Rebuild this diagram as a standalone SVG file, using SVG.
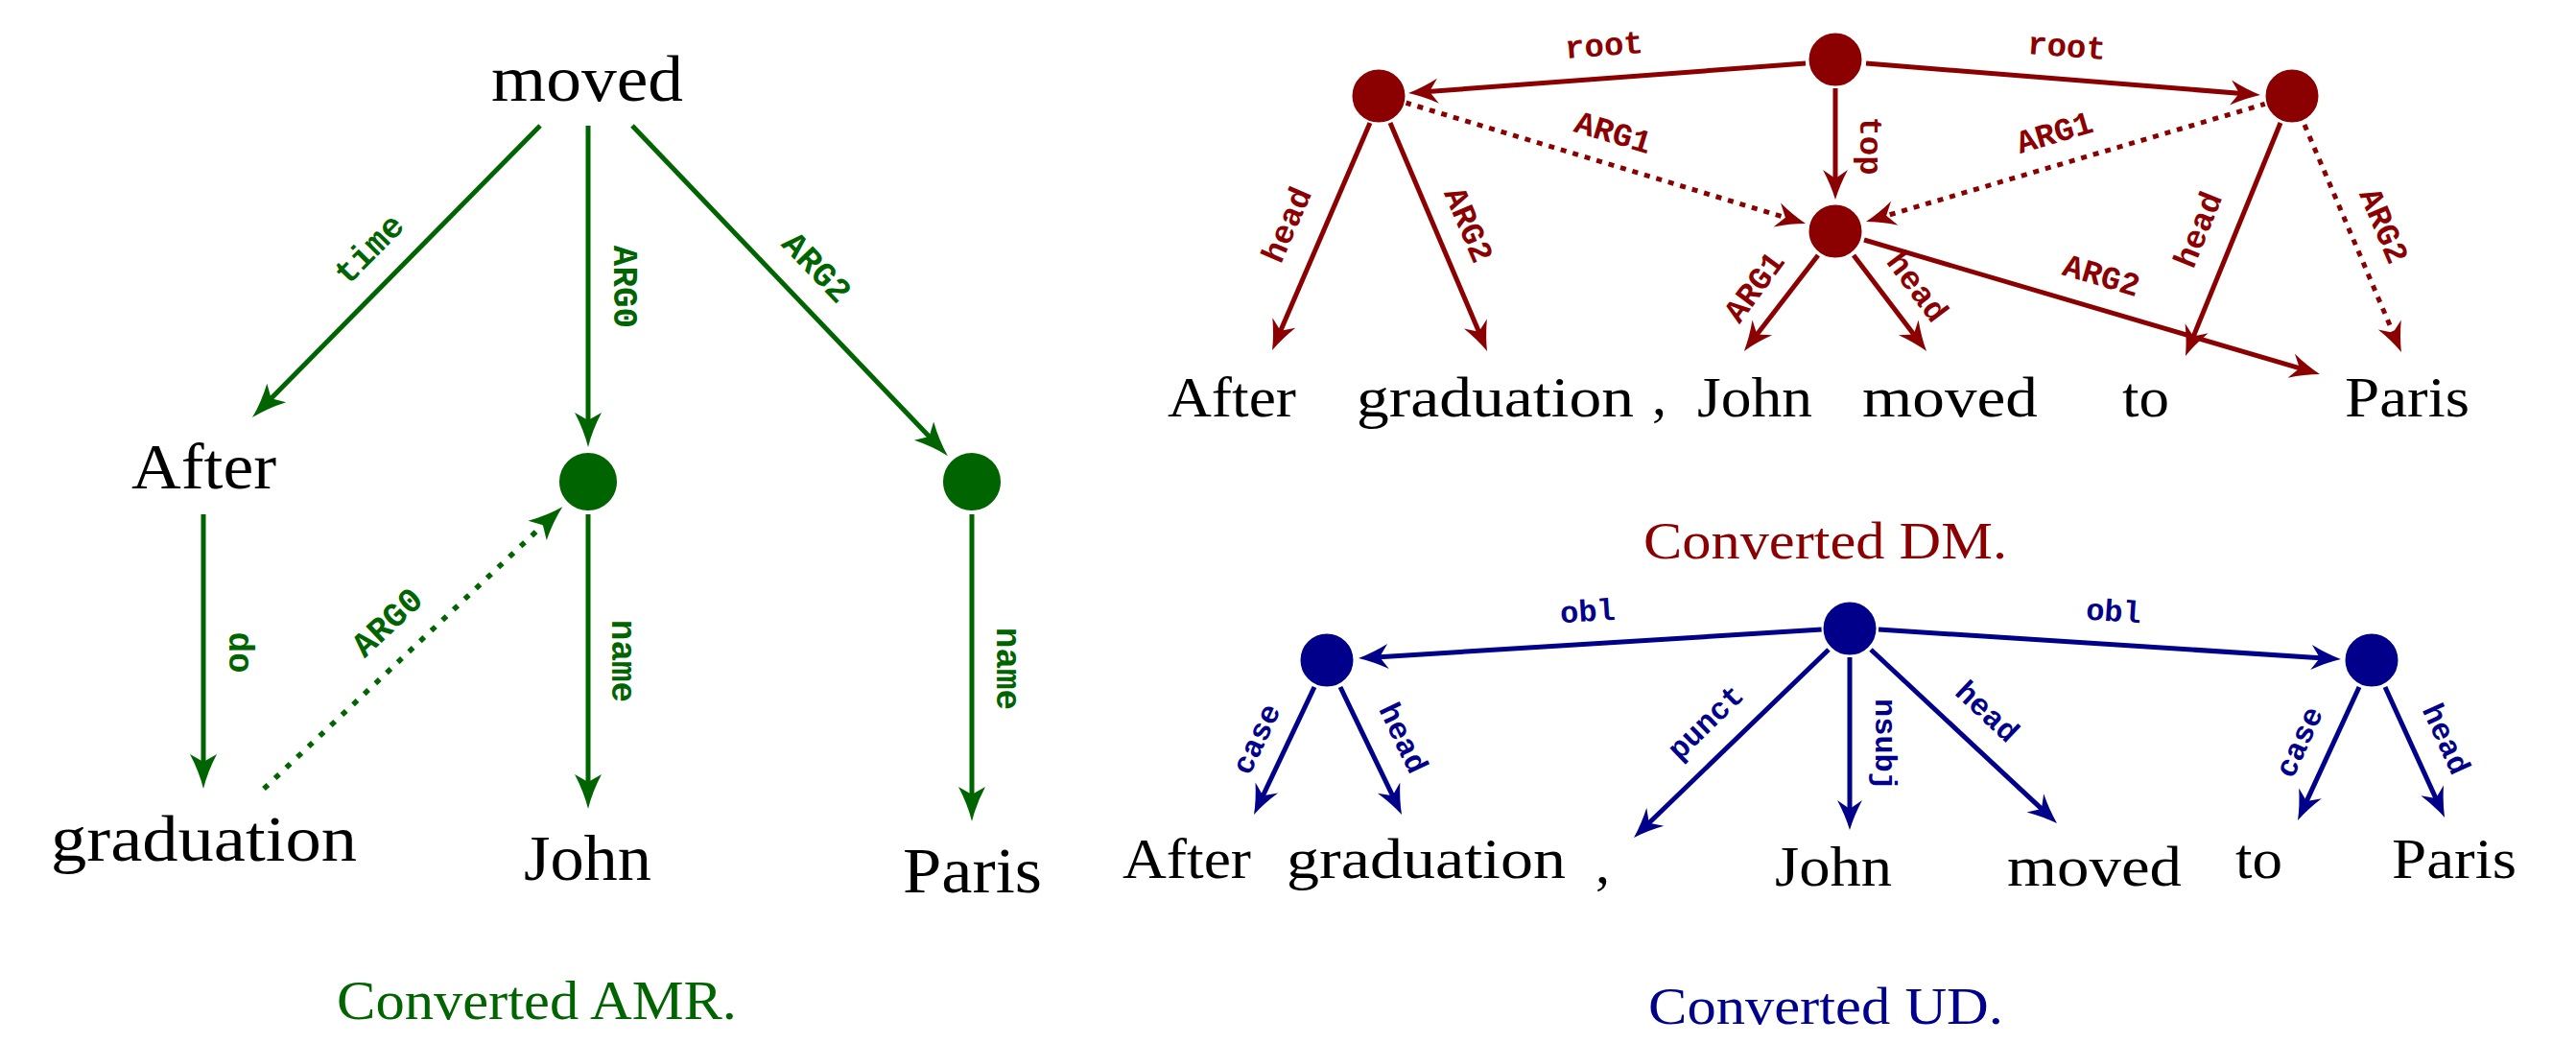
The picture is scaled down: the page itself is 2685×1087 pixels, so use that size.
<svg xmlns="http://www.w3.org/2000/svg" width="2685" height="1087" viewBox="0 0 2685 1087">
<defs>
<style>
.w{font-family:"Liberation Serif","Times New Roman",serif;fill:#000}
.amrw{font-size:67px}
.sw{font-size:60px}
.cap{font-family:"Liberation Serif","Times New Roman",serif;font-size:56px}
.lbl{font-family:"Liberation Mono","Courier New",monospace;font-weight:bold;text-anchor:middle;dominant-baseline:central}
.g{stroke:#006400;fill:none;stroke-width:5}
.r{stroke:#8B0000;fill:none;stroke-width:5}
.b{stroke:#00008B;fill:none;stroke-width:5}
.gt{fill:#006400;font-size:36px}
.rt{fill:#8B0000;font-size:34px}
.bt{fill:#00008B;font-size:32px}
.dotA{stroke-dasharray:6 10;stroke-width:5.5}
.dotD{stroke-dasharray:6 7;stroke-width:5}
.gn{fill:#006400;stroke:#fff;stroke-width:2}
.rn{fill:#8B0000;stroke:#fff;stroke-width:2}
.bn{fill:#00008B;stroke:#fff;stroke-width:2}
</style>
<marker id="ag" markerUnits="userSpaceOnUse" orient="auto" refX="0" refY="0" markerWidth="60" markerHeight="60" style="overflow:visible">
<path d="M10,0 Q-8,-4.5 -26,-14 L-18,0 L-26,14 Q-8,4.5 10,0 Z" fill="#006400"/>
</marker>
<marker id="ar" markerUnits="userSpaceOnUse" orient="auto" refX="0" refY="0" markerWidth="60" markerHeight="60" style="overflow:visible">
<path d="M10,0 Q-5,-4.5 -21,-13 L-12,0 L-21,13 Q-5,4.5 10,0 Z" fill="#8B0000"/>
</marker>
<marker id="ab" markerUnits="userSpaceOnUse" orient="auto" refX="0" refY="0" markerWidth="60" markerHeight="60" style="overflow:visible">
<path d="M10,0 Q-5,-4.5 -21,-13 L-12,0 L-21,13 Q-5,4.5 10,0 Z" fill="#00008B"/>
</marker>
</defs>
<rect x="0" y="0" width="2685" height="1087" fill="#fff"/>

<!-- ===== AMR ===== -->
<g id="connectors-amr">
<line class="g" x1="563" y1="131" x2="270" y2="428" marker-end="url(#ag)"/>
<text class="lbl gt" transform="translate(386,261) rotate(-45.4)">time</text>
<line class="g" x1="613" y1="131" x2="613" y2="456" marker-end="url(#ag)"/>
<text class="lbl gt" transform="translate(649,299) rotate(90)">ARG0</text>
<line class="g" x1="659" y1="131" x2="981" y2="468" marker-end="url(#ag)"/>
<text class="lbl gt" transform="translate(850,280) rotate(46.3)">ARG2</text>
<line class="g" x1="212" y1="536" x2="212" y2="812" marker-end="url(#ag)"/>
<text class="lbl gt" transform="translate(248,680) rotate(90)">do</text>
<line class="g dotA" x1="275" y1="822" x2="579" y2="535" marker-end="url(#ag)"/>
<text class="lbl gt" transform="translate(405,650) rotate(-43.3)">ARG0</text>
<line class="g" x1="613" y1="536" x2="613" y2="833" marker-end="url(#ag)"/>
<text class="lbl gt" transform="translate(647,689) rotate(90)">name</text>
<line class="g" x1="1013" y1="536" x2="1013" y2="846" marker-end="url(#ag)"/>
<text class="lbl gt" transform="translate(1048,697) rotate(90)">name</text>
</g>
<g id="amr-moved"><text class="w amrw" x="512" y="105" textLength="200" lengthAdjust="spacingAndGlyphs">moved</text></g>
<g id="amr-after"><text class="w amrw" x="137" y="509" textLength="151" lengthAdjust="spacingAndGlyphs">After</text></g>
<g id="amr-graduation"><text class="w amrw" x="53" y="897" textLength="319" lengthAdjust="spacingAndGlyphs">graduation</text></g>
<g id="amr-john"><text class="w amrw" x="546" y="917" textLength="133" lengthAdjust="spacingAndGlyphs">John</text></g>
<g id="amr-paris"><text class="w amrw" x="941" y="930" textLength="145" lengthAdjust="spacingAndGlyphs">Paris</text></g>
<g id="amr-n1"><circle class="gn" cx="613" cy="502" r="31"/></g>
<g id="amr-n2"><circle class="gn" cx="1013" cy="502" r="31"/></g>
<g id="amr-caption"><text class="cap" fill="#006400" x="351" y="1062" textLength="417" lengthAdjust="spacingAndGlyphs">Converted AMR.</text></g>

<!-- ===== DM ===== -->
<g id="connectors-dm">
<line class="r" x1="1882" y1="66" x2="1478" y2="96.3" marker-end="url(#ar)"/>
<text class="lbl rt" transform="translate(1672,49) rotate(-4.3)">root</text>
<line class="r" x1="1945" y1="66" x2="2346" y2="98.2" marker-end="url(#ar)"/>
<text class="lbl rt" transform="translate(2154,50) rotate(4.3)">root</text>
<line class="r" x1="1913" y1="92" x2="1913" y2="198" marker-end="url(#ar)"/>
<text class="lbl rt" transform="translate(1948,152) rotate(90)">top</text>
<line class="r dotD" x1="1465" y1="107" x2="1872.4" y2="230.1" marker-end="url(#ar)"/>
<text class="lbl rt" transform="translate(1681,140) rotate(16.8)">ARG1</text>
<line class="r dotD" x1="2362" y1="108" x2="1954.6" y2="228.2" marker-end="url(#ar)"/>
<text class="lbl rt" transform="translate(2142,140) rotate(-16.4)">ARG1</text>
<line class="r" x1="1428" y1="128" x2="1330" y2="355.8" marker-end="url(#ar)"/>
<text class="lbl rt" transform="translate(1343,235) rotate(-66.5)">head</text>
<line class="r" x1="1449" y1="128" x2="1546.1" y2="356.8" marker-end="url(#ar)"/>
<text class="lbl rt" transform="translate(1529,235) rotate(67)">ARG2</text>
<line class="r" x1="1895" y1="266" x2="1824" y2="358" marker-end="url(#ar)"/>
<text class="lbl rt" transform="translate(1830,300) rotate(-53.6)">ARG1</text>
<line class="r" x1="1932" y1="266" x2="2002" y2="358" marker-end="url(#ar)"/>
<text class="lbl rt" transform="translate(1997,300) rotate(53.2)">head</text>
<line class="r" x1="1943" y1="250" x2="2408.4" y2="387.2" marker-end="url(#ar)"/>
<text class="lbl rt" transform="translate(2190,289) rotate(16.4)">ARG2</text>
<line class="r" x1="2377" y1="128" x2="2281.7" y2="361.7" marker-end="url(#ar)"/>
<text class="lbl rt" transform="translate(2293,240) rotate(-68)">head</text>
<line class="r dotD" x1="2402" y1="130" x2="2499" y2="357.8" marker-end="url(#ar)"/>
<text class="lbl rt" transform="translate(2483,236) rotate(67)">ARG2</text>
</g>
<g id="dm-n-root"><circle class="rn" cx="1913" cy="62" r="28.5"/></g>
<g id="dm-n-left"><circle class="rn" cx="1437" cy="100" r="28.5"/></g>
<g id="dm-n-right"><circle class="rn" cx="2389" cy="100" r="28.5"/></g>
<g id="dm-n-mid"><circle class="rn" cx="1913" cy="241" r="28.5"/></g>
<g id="dm-after"><text class="w sw" x="1217" y="434" textLength="134" lengthAdjust="spacingAndGlyphs">After</text></g>
<g id="dm-graduation"><text class="w sw" x="1414" y="434" textLength="289" lengthAdjust="spacingAndGlyphs">graduation</text></g>
<g id="dm-comma"><text class="w sw" x="1722" y="432">,</text></g>
<g id="dm-john"><text class="w sw" x="1769" y="434" textLength="120" lengthAdjust="spacingAndGlyphs">John</text></g>
<g id="dm-moved"><text class="w sw" x="1941" y="434" textLength="183" lengthAdjust="spacingAndGlyphs">moved</text></g>
<g id="dm-to"><text class="w sw" x="2212" y="434" textLength="49" lengthAdjust="spacingAndGlyphs">to</text></g>
<g id="dm-paris"><text class="w sw" x="2444" y="434" textLength="130" lengthAdjust="spacingAndGlyphs">Paris</text></g>
<g id="dm-caption"><text class="cap" fill="#8B0000" x="1713" y="582" textLength="379" lengthAdjust="spacingAndGlyphs" style="font-size:54px">Converted DM.</text></g>

<!-- ===== UD ===== -->
<g id="connectors-ud">
<line class="b" x1="1899" y1="656" x2="1426" y2="685.4" marker-end="url(#ab)"/>
<text class="lbl bt" transform="translate(1655,639) rotate(-3.6)">obl</text>
<line class="b" x1="1958" y1="656" x2="2430" y2="686.4" marker-end="url(#ab)"/>
<text class="lbl bt" transform="translate(2203,639) rotate(3.8)">obl</text>
<line class="b" x1="1370" y1="716" x2="1311.3" y2="840" marker-end="url(#ab)"/>
<text class="lbl bt" transform="translate(1311,771) rotate(-64.7)">case</text>
<line class="b" x1="1397" y1="716" x2="1456.7" y2="840" marker-end="url(#ab)"/>
<text class="lbl bt" transform="translate(1461,770) rotate(64.3)">head</text>
<line class="b" x1="1906" y1="677" x2="1710.2" y2="866" marker-end="url(#ab)"/>
<text class="lbl bt" transform="translate(1779,754) rotate(-44.1)">punct</text>
<line class="b" x1="1928" y1="685" x2="1928" y2="855" marker-end="url(#ab)"/>
<text class="lbl bt" transform="translate(1963,776) rotate(90)">nsubj</text>
<line class="b" x1="1950" y1="677" x2="2136.7" y2="851.2" marker-end="url(#ab)"/>
<text class="lbl bt" transform="translate(2070,743) rotate(43.2)">head</text>
<line class="b" x1="2459" y1="716" x2="2399.2" y2="845.9" marker-end="url(#ab)"/>
<text class="lbl bt" transform="translate(2398,774) rotate(-65.3)">case</text>
<line class="b" x1="2486" y1="716" x2="2543.9" y2="842.9" marker-end="url(#ab)"/>
<text class="lbl bt" transform="translate(2548,771) rotate(65.5)">head</text>
</g>
<g id="ud-n-root"><circle class="bn" cx="1928" cy="655" r="28.5"/></g>
<g id="ud-n-left"><circle class="bn" cx="1383" cy="688" r="28.5"/></g>
<g id="ud-n-right"><circle class="bn" cx="2472" cy="688" r="28.5"/></g>
<g id="ud-after"><text class="w sw" x="1170" y="915" textLength="134" lengthAdjust="spacingAndGlyphs">After</text></g>
<g id="ud-graduation"><text class="w sw" x="1341" y="915" textLength="291" lengthAdjust="spacingAndGlyphs">graduation</text></g>
<g id="ud-comma"><text class="w sw" x="1663" y="920">,</text></g>
<g id="ud-john"><text class="w sw" x="1850" y="923" textLength="122" lengthAdjust="spacingAndGlyphs">John</text></g>
<g id="ud-moved"><text class="w sw" x="2092" y="923" textLength="182" lengthAdjust="spacingAndGlyphs">moved</text></g>
<g id="ud-to"><text class="w sw" x="2330" y="915" textLength="49" lengthAdjust="spacingAndGlyphs">to</text></g>
<g id="ud-paris"><text class="w sw" x="2493" y="915" textLength="130" lengthAdjust="spacingAndGlyphs">Paris</text></g>
<g id="ud-caption"><text class="cap" fill="#00008B" x="1718" y="1067" textLength="370" lengthAdjust="spacingAndGlyphs" style="font-size:54px">Converted UD.</text></g>
</svg>
